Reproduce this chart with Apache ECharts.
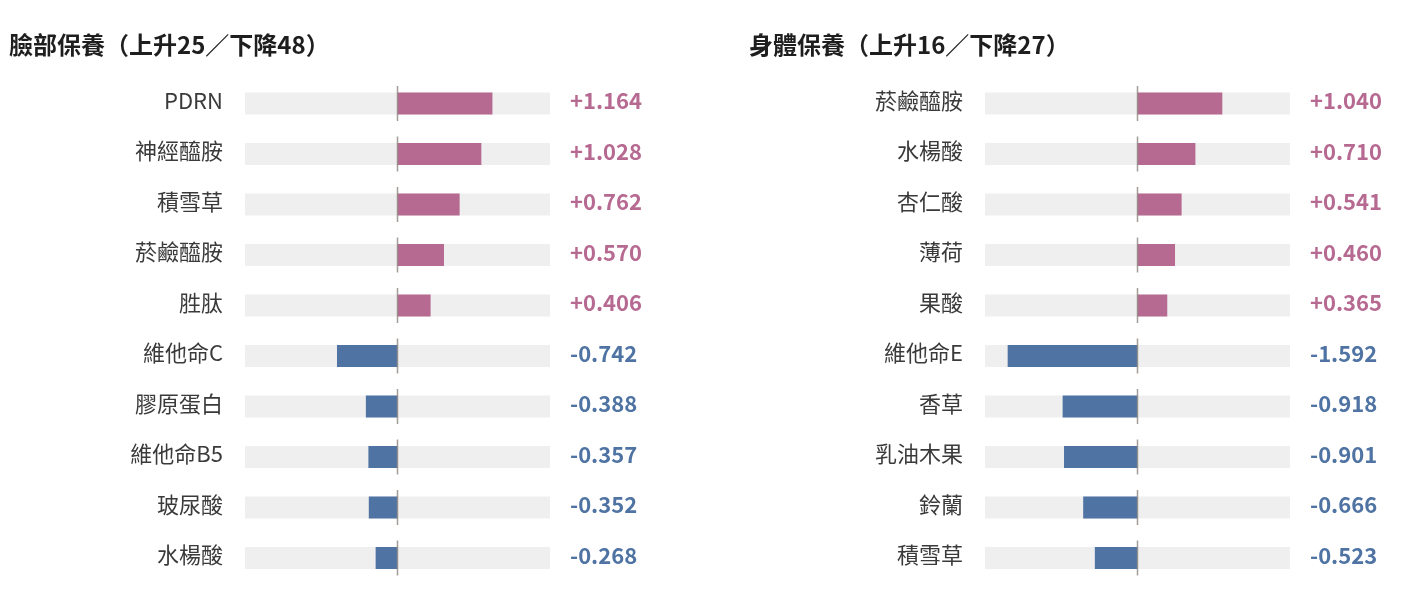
<!DOCTYPE html>
<html><head><meta charset="utf-8">
<script src="https://cdn.jsdelivr.net/npm/echarts@6/dist/echarts.min.js"></script>
<style>html,body{margin:0;padding:0;background:#fff}#c{width:1414px;height:608px}</style>
</head><body><div id="c"></div>
<script>
const faceTitle = '臉部保養（上升25／下降48）';
const faceCategories = ['PDRN','神經醯胺','積雪草','菸鹼醯胺','胜肽','維他命C','膠原蛋白','維他命B5','玻尿酸','水楊酸'];
const faceValues = [1.164, 1.028, 0.762, 0.570, 0.406, -0.742, -0.388, -0.357, -0.352, -0.268];
const bodyTitle = '身體保養（上升16／下降27）';
const bodyCategories = ['菸鹼醯胺','水楊酸','杏仁酸','薄荷','果酸','維他命E','香草','乳油木果','鈴蘭','積雪草'];
const bodyValues = [1.040, 0.710, 0.541, 0.460, 0.365, -1.592, -0.918, -0.901, -0.666, -0.523];

const PINK = '#b76a91', BLUE = '#4f73a3', FONT = 'Noto Sans CJK TC';
const fmt = v => (v > 0 ? '+' : '') + v.toFixed(3);
const panels = [
  {title: faceTitle, cats: faceCategories, vals: faceValues, left: 245, titleX: 9},
  {title: bodyTitle, cats: bodyCategories, vals: bodyValues, left: 985, titleX: 749}
];
const option = {
  animation: false,
  textStyle: {fontFamily: FONT},
  title: panels.map(p => ({text: p.title, left: p.titleX, top: 33, padding: 0,
    textStyle: {fontFamily: FONT, fontSize: 24, fontWeight: 'bold', color: '#1e1e1e'}})),
  grid: panels.map(p => ({left: p.left, width: 305, top: 78.25, height: 505})),
  xAxis: panels.map((p, i) => ({type: 'value', gridIndex: i, min: -1.87, max: 1.87, show: false})),
  yAxis: panels.flatMap((p, i) => [
    {type: 'category', gridIndex: i, data: p.cats, inverse: true, position: 'left',
      axisLine: {show: false}, axisTick: {show: false}, splitLine: {show: false},
      axisLabel: {margin: 22, fontFamily: FONT, padding: [0, 0, 6, 0],
        formatter: v => '{c|' + v + '}',
        rich: {c: {fontSize: 22, color: '#3a3a3a', fontFamily: FONT}}}},
    {type: 'category', gridIndex: i, data: p.vals.map(fmt), inverse: true, position: 'right',
      axisLine: {show: false}, axisTick: {show: false}, splitLine: {show: false},
      axisLabel: {margin: 20, align: 'left', fontFamily: FONT, padding: [0, 0, 5, 0],
        formatter: v => (v[0] === '+' ? '{p|' : '{n|') + v + '}',
        rich: {p: {color: PINK, fontSize: 22, fontWeight: 'bold', fontFamily: FONT},
               n: {color: BLUE, fontSize: 22, fontWeight: 'bold', fontFamily: FONT}}}}
  ]),
  series: panels.flatMap((p, i) => [
    {type: 'bar', xAxisIndex: i, yAxisIndex: i * 2, barWidth: 22,
      showBackground: true, backgroundStyle: {color: '#efefef'},
      data: p.vals.map(v => ({value: v, itemStyle: {color: v > 0 ? PINK : BLUE}}))},
    {type: 'scatter', xAxisIndex: i, yAxisIndex: i * 2, symbol: 'rect', symbolSize: [1.5, 35], z: 5,
      itemStyle: {color: '#8c8680'}, silent: true,
      data: p.cats.map((c, k) => [0, k])}
  ])
};
echarts.init(document.getElementById('c')).setOption(option);
</script></body></html>
